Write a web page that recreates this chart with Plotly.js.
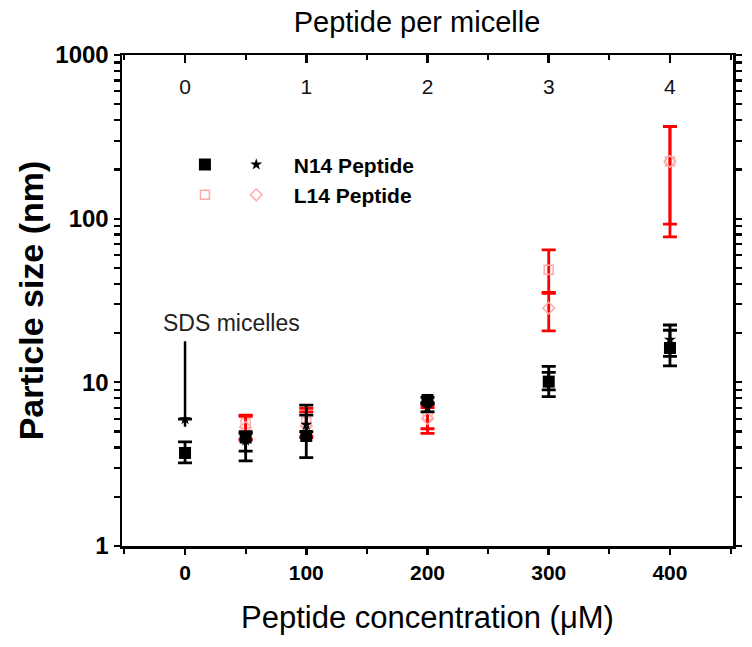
<!DOCTYPE html>
<html>
<head>
<meta charset="utf-8">
<script src="https://cdn.plot.ly/plotly-3.0.1.min.js"></script>
<style>html,body{margin:0;padding:0;background:#fff;}#chart{width:752px;height:647px;}</style>
</head>
<body>
<div id="chart"></div>
<script>
// ---- data ----
const conc = [0, 50, 100, 200, 300, 400];            // Peptide concentration (µM)
const perMicelle = [0, 0.5, 1, 2, 3, 4];              // Peptide per micelle

const n14SquareVal = [3.7, 4.6, 4.7, 7.8, 10.1, 16.2];
const n14SquareHi  = [4.33, 5.0, 7.26, 8.1, 12.5, 20.8];
const n14SquareLo  = [3.22, 3.31, 3.46, 7.5, 8.17, 12.6];

const n14StarVal = [5.96, 4.4, 5.5, 7.0, 10.5, 18.2];
const n14StarHi  = [5.96, 4.87, 6.3, 7.4, 11.5, 22.4];
const n14StarLo  = [5.96, 3.8, 4.99, 6.6, 9.0, 14.4];

const l14SquareVal = [null, 5.6, 5.7, 6.3, 48.7, 224];
const l14SquareHi  = [null, 6.3, 6.93, 7.25, 64.4, 366];
const l14SquareLo  = [null, 4.43, 4.65, 5.2, 35.5, 92.7];

const l14DiamondVal = [null, 5.3, 5.4, 6.0, 28.4, 224];
const l14DiamondHi  = [null, 6.2, 6.6, 7.0, 35.0, 366];
const l14DiamondLo  = [null, 4.5, 4.6, 4.87, 20.6, 77.4];

const sdsTop = 18.2;      // top of the "SDS micelles" pointer line
const sdsBottom = 5.35;   // bottom of the pointer line

const xTicks = [0, 100, 200, 300, 400];
const topTicks = [0, 1, 2, 3, 4];
const yTicks = [1, 10, 100, 1000];
const yMinorTicks = [2, 3, 4, 5, 6, 7, 8, 9, 20, 30, 40, 50, 60, 70, 80, 90, 200, 300, 400, 500, 600, 700, 800, 900];

// ---- helpers ----
const plus = (v, h) => v.map((d, i) => d == null ? null : h[i] - d);
const minus = (v, l) => v.map((d, i) => d == null ? null : d - l[i]);

const FONT = 'Liberation Sans, Arial, sans-serif';
const BLACK = '#000000';
const RED = '#ff0000';
const PINK = '#ffaaaa';
const NB = '\u00a0\u00a0\u00a0';

// all y ticks, sorted (labelled decades + unlabelled minor ticks)
const yAllTicks = yTicks.concat(yMinorTicks).sort((a, b) => a - b);
const yAllText = yAllTicks.map(v => yTicks.includes(v) ? String(v) : '');

function errY(v, h, l, color) {
  return {type: 'data', symmetric: false, array: plus(v, h), arrayminus: minus(v, l),
          color: color, thickness: 2.8, width: 7};
}

const traces = [
  {x: conc, y: l14SquareVal, type: 'scatter', mode: 'markers', name: ' ', legend: 'legend',
   marker: {symbol: 'square-open', size: 9, color: PINK, line: {width: 1.5, color: PINK}},
   error_y: errY(l14SquareVal, l14SquareHi, l14SquareLo, RED), legendrank: 2},
  {x: conc, y: l14DiamondVal, type: 'scatter', mode: 'markers', name: NB + 'L14 Peptide', legend: 'legend2',
   marker: {symbol: 'diamond-open', size: 9, color: PINK, line: {width: 1.5, color: PINK}},
   error_y: errY(l14DiamondVal, l14DiamondHi, l14DiamondLo, RED), legendrank: 2},
  {x: conc, y: n14StarVal, type: 'scatter', mode: 'markers', name: NB + 'N14 Peptide', legend: 'legend2',
   marker: {symbol: 'star', size: 9, color: BLACK},
   error_y: errY(n14StarVal, n14StarHi, n14StarLo, BLACK), legendrank: 1},
  {x: conc, y: n14SquareVal, type: 'scatter', mode: 'markers', name: ' ', legend: 'legend',
   marker: {symbol: 'square', size: 12, color: BLACK},
   error_y: errY(n14SquareVal, n14SquareHi, n14SquareLo, BLACK), legendrank: 1},
  // invisible carrier so the top (peptide per micelle) axis is drawn
  {x: perMicelle, y: n14SquareVal, xaxis: 'x2', yaxis: 'y2', type: 'scatter', mode: 'markers',
   marker: {opacity: 0}, showlegend: false, hoverinfo: 'skip'}
];

const axisLine = {showline: true, linecolor: BLACK, linewidth: 2.5, showgrid: false, zeroline: false,
                  tickcolor: BLACK, tickwidth: 2.5};

const layout = {
  width: 752, height: 647,
  margin: {l: 122, r: 19, t: 55, b: 101},
  paper_bgcolor: '#fff', plot_bgcolor: '#fff',
  font: {family: FONT, color: BLACK},
  showlegend: true,
  title: {text: 'Peptide per micelle', font: {size: 29, family: FONT, color: BLACK},
          x: 0.5545, xref: 'container', xanchor: 'center', y: 0.966, yref: 'container', yanchor: 'middle'},
  xaxis: Object.assign({}, axisLine, {
    range: [-52, 452], tickvals: xTicks, ticktext: xTicks.map(String), ticks: 'outside', ticklen: 6,
    minor: {dtick: 50, tick0: 0, ticks: 'outside', ticklen: 5, tickwidth: 2, tickcolor: BLACK},
    tickfont: {size: 21, family: FONT, weight: 'bold'},
    title: {text: 'Peptide concentration (μM)', font: {size: 31, family: FONT}, standoff: 24},
    automargin: false
  }),
  xaxis2: Object.assign({}, axisLine, {
    overlaying: 'x', side: 'top', anchor: 'y',
    range: [-0.52, 4.52], tickvals: topTicks, ticktext: topTicks.map(String),
    ticks: 'inside', ticklen: 8, ticklabelposition: 'inside', ticklabelstandoff: 18,
    minor: {dtick: 0.5, tick0: 0, ticks: 'inside', ticklen: 5, tickwidth: 2, tickcolor: BLACK},
    tickfont: {size: 21, family: FONT, color: '#111'},
    automargin: false
  }),
  yaxis: Object.assign({}, axisLine, {
    type: 'log', range: [-0.0005, 3.0005], tickmode: 'array', tickvals: yAllTicks, ticktext: yAllText,
    ticks: 'outside', ticklen: 6, tickwidth: 2.2, mirror: 'allticks',
    tickfont: {size: 24, family: FONT, weight: 'bold'},
    title: {text: 'Particle size (nm)', font: {size: 34, family: FONT, weight: 'bold'}, standoff: 2},
    automargin: false
  }),
  yaxis2: {
    type: 'log', range: [-0.0005, 3.0005], overlaying: 'y', side: 'right', anchor: 'x',
    showline: false, showgrid: false, zeroline: false, showticklabels: false, ticks: '', automargin: false
  },
  legend: {x: 0.103, y: 0.818, xanchor: 'left', yanchor: 'top', bgcolor: 'rgba(0,0,0,0)',
           font: {size: 21, family: FONT, weight: 'bold'}, itemwidth: 30, tracegroupgap: 0},
  legend2: {x: 0.187, y: 0.818, xanchor: 'left', yanchor: 'top', bgcolor: 'rgba(0,0,0,0)',
            font: {size: 21, family: FONT, weight: 'bold'}, itemwidth: 30, tracegroupgap: 0},
  annotations: [
    {x: conc[0], y: Math.log10(sdsTop), xref: 'x', yref: 'y', text: 'SDS micelles', showarrow: false,
     xanchor: 'left', yanchor: 'bottom', xshift: -24, yshift: 2,
     font: {size: 23, family: FONT, color: '#222'}},
    {x: conc[0], y: Math.log10(sdsBottom), xref: 'x', yref: 'y', text: '', showarrow: true,
     axref: 'x', ayref: 'y', ax: conc[0], ay: Math.log10(sdsTop), arrowhead: 0, arrowwidth: 2.5,
     arrowcolor: BLACK, standoff: 0, startstandoff: 0}
  ]
};

Plotly.newPlot('chart', traces, layout, {displayModeBar: false, staticPlot: true});
</script>
</body>
</html>
